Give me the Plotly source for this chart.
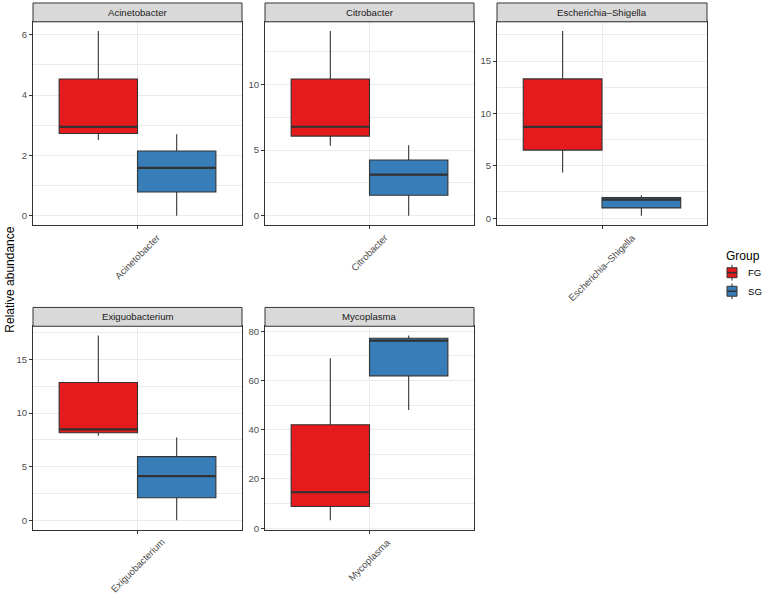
import plotly.graph_objects as go

# ---- data ----
genera = ["Acinetobacter", "Citrobacter", "Escherichia\u2013Shigella", "Exiguobacterium", "Mycoplasma"]
groups = ["FG", "SG"]

fg_min = [2.51, 5.33, 4.35, 7.89, 3.2]
fg_q1 = [2.73, 6.06, 6.50, 8.17, 8.8]
fg_med = [2.95, 6.77, 8.72, 8.48, 14.6]
fg_q3 = [4.53, 10.40, 13.30, 12.86, 42.0]
fg_max = [6.12, 14.04, 17.87, 17.24, 69.1]

sg_min = [0.0, 0.0, 0.22, 0.0, 48.0]
sg_q1 = [0.79, 1.57, 0.98, 2.10, 61.9]
sg_med = [1.59, 3.13, 1.77, 4.12, 76.2]
sg_q3 = [2.15, 4.24, 1.96, 5.94, 77.2]
sg_max = [2.70, 5.36, 2.19, 7.73, 78.3]

y_dtick = [2, 5, 5, 5, 20]

# ---- style ----
W, H = 762, 597
colors = {"FG": "#E41A1C", "SG": "#377EB8"}
BOXW = 0.375
FONT = "Liberation Sans, Arial, sans-serif"
panels_px = [  # x0, x1, y0, y1 (pixels, plot area)
    (33, 242, 21, 226),
    (265, 474, 21, 226),
    (497, 707, 21, 226),
    (33, 242, 328, 533),
    (265, 474, 328, 533),
]
STRIP_H = 19

stats = {
    "FG": (fg_min, fg_q1, fg_med, fg_q3, fg_max),
    "SG": (sg_min, sg_q1, sg_med, sg_q3, sg_max),
}

fig = go.Figure()
shapes = []
annotations = []
layout = {}

for i, name in enumerate(genera):
    sfx = "" if i == 0 else str(i + 1)
    xa, ya = "x" + sfx, "y" + sfx
    x0, x1, y0, y1 = panels_px[i]
    for gi, g in enumerate(groups):
        mn, q1, md, q3, mx = stats[g]
        xc = (-0.5 + gi) * BOXW
        fig.add_trace(go.Box(
            x=[xc], q1=[q1[i]], median=[md[i]], q3=[q3[i]],
            lowerfence=[mn[i]], upperfence=[mx[i]],
            width=BOXW, fillcolor=colors[g],
            line=dict(color="#333333", width=1.1), whiskerwidth=0,
            boxpoints=False, name=g, legendgroup=g, showlegend=False,
            xaxis=xa, yaxis=ya, hoverinfo="skip",
        ))
        fig.add_trace(go.Scatter(
            x=[xc - BOXW / 2, xc + BOXW / 2], y=[md[i], md[i]], mode="lines",
            line=dict(color="#333333", width=2.2), showlegend=False,
            xaxis=xa, yaxis=ya, hoverinfo="skip",
        ))
    lo = min(fg_min[i], sg_min[i])
    hi = max(fg_max[i], sg_max[i])
    pad = 0.05 * (hi - lo)
    axstyle = dict(showline=True, mirror=True, linecolor="#333333", linewidth=1,
                   ticks="outside", ticklen=3, tickcolor="#333333", tickwidth=1,
                   gridcolor="#ebebeb", gridwidth=1, zeroline=False,
                   tickfont=dict(family=FONT, size=9.6, color="#4d4d4d"))
    layout["xaxis" + sfx] = dict(
        domain=[x0 / W, x1 / W], anchor=ya, range=[-0.5, 0.5],
        tickvals=[0], showticklabels=False, showgrid=True, **axstyle)
    layout["yaxis" + sfx] = dict(
        domain=[1 - y1 / H, 1 - y0 / H], anchor=xa, range=[lo - pad, hi + pad],
        tick0=0, dtick=y_dtick[i], showgrid=True,
        minor=dict(tick0=0, dtick=y_dtick[i] / 2, showgrid=True, gridcolor="#ebebeb", gridwidth=0.5, ticks=""),
        **axstyle)
    # rotated category label, centred under the tick (ggplot angle=45)
    annotations.append(dict(text=name, xref=xa, yref="paper", x=0, y=1 - (y1 + 4) / H,
                            textangle=-45, showarrow=False, xanchor="center", yanchor="top",
                            font=dict(family=FONT, size=9.6, color="#4d4d4d")))
    shapes.append(dict(type="rect", xref="paper", yref="paper",
                       x0=x0 / W, x1=x1 / W, y0=1 - y0 / H, y1=1 - (y0 - STRIP_H) / H,
                       fillcolor="#d9d9d9", line=dict(color="#333333", width=1)))
    annotations.append(dict(text=name, xref="paper", yref="paper",
                            x=(x0 + x1) / 2 / W, y=1 - (y0 - STRIP_H / 2) / H,
                            showarrow=False, xanchor="center", yanchor="middle",
                            font=dict(family=FONT, size=9.6, color="#1a1a1a")))

annotations.append(dict(text="Relative abundance", xref="paper", yref="paper",
                        x=10 / W, y=1 - 281 / H, textangle=-90, showarrow=False,
                        xanchor="center", yanchor="middle",
                        font=dict(family=FONT, size=12, color="#000000")))

# ---- legend (ggplot-style keys) ----
LEG_X, LEG_TITLE_Y, KEY_Y0, KEY_STEP = 724, 257, 274, 18.7
annotations.append(dict(text="Group", xref="paper", yref="paper",
                        x=LEG_X / W, y=1 - LEG_TITLE_Y / H, showarrow=False,
                        xanchor="left", yanchor="middle",
                        font=dict(family=FONT, size=12, color="#000000")))
for gi, g in enumerate(groups):
    cy = KEY_Y0 + gi * KEY_STEP
    kx0, kx1 = LEG_X + 3, LEG_X + 13
    kc = (kx0 + kx1) / 2
    shapes.append(dict(type="line", xref="paper", yref="paper",
                       x0=kc / W, x1=kc / W, y0=1 - (cy - 8) / H, y1=1 - (cy + 8) / H,
                       line=dict(color="#333333", width=1)))
    shapes.append(dict(type="rect", xref="paper", yref="paper",
                       x0=kx0 / W, x1=kx1 / W, y0=1 - (cy - 5) / H, y1=1 - (cy + 5) / H,
                       fillcolor=colors[g], line=dict(color="#333333", width=1)))
    shapes.append(dict(type="line", xref="paper", yref="paper",
                       x0=kx0 / W, x1=kx1 / W, y0=1 - cy / H, y1=1 - cy / H,
                       line=dict(color="#333333", width=1.6)))
    annotations.append(dict(text=g, xref="paper", yref="paper",
                            x=(LEG_X + 22) / W, y=1 - cy / H, showarrow=False,
                            xanchor="left", yanchor="middle",
                            font=dict(family=FONT, size=9.6, color="#000000")))

fig.update_layout(
    width=W, height=H, margin=dict(l=0, r=0, t=0, b=0),
    paper_bgcolor="white", plot_bgcolor="white",
    shapes=shapes, annotations=annotations, showlegend=False,
    font=dict(family=FONT),
    **layout,
)

fig.write_html("out.html")
